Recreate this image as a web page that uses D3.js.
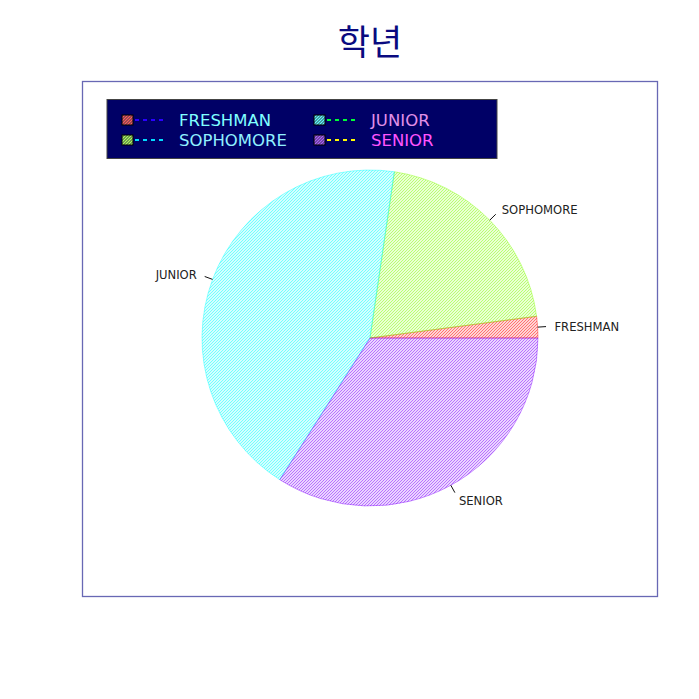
<!DOCTYPE html>
<html><head><meta charset="utf-8">
<script src="https://cdn.jsdelivr.net/npm/d3@7"></script>
<style>body{margin:0;background:#fff}svg{display:block}</style>
</head><body>
<script>
const title = "학년";
const categories = ["FRESHMAN", "SOPHOMORE", "JUNIOR", "SENIOR"];
const values = [2, 20, 42, 33];
const sliceColors = ["#FF0000", "#80FF00", "#00FFFF", "#8000FF"];
const legendLineColors = ["#2a00ff", "#00ddff", "#00ff33", "#ffff00"];
const legendTextColors = ["#80ffff", "#90f0ff", "#e090e8", "#ff55ff"];

const W = 699, H = 699;
const svg = d3.select("body").append("svg").attr("width", W).attr("height", H);
const defs = svg.append("defs");

sliceColors.forEach((c, i) => {
  const p = defs.append("pattern").attr("id", "hatch" + i)
    .attr("patternUnits", "userSpaceOnUse").attr("width", 3).attr("height", 3);
  p.append("path").attr("d", "M0,3L3,0M-1,1L1,-1M2,4L4,2")
    .attr("stroke", c).attr("stroke-width", 1.1).attr("stroke-opacity", 0.58);
  const q = defs.append("pattern").attr("id", "lhatch" + i)
    .attr("patternUnits", "userSpaceOnUse").attr("width", 3).attr("height", 3);
  q.append("path").attr("d", "M0,3L3,0M-1,1L1,-1M2,4L4,2")
    .attr("stroke", d3.interpolateRgb(c, "#ffffff")(0.35)).attr("stroke-width", 1.4);
});

// title
svg.append("text").attr("x", 370).attr("y", 55).attr("text-anchor", "middle")
  .attr("font-family", "'Noto Sans CJK KR'").attr("font-size", 35)
  .attr("fill", "#0a0a80").text(title);

// plot box
svg.append("rect").attr("x", 82.5).attr("y", 81.5).attr("width", 575).attr("height", 515)
  .attr("fill", "none").attr("stroke", "#6868b4").attr("stroke-width", 1.3);

// pie
const cx = 370, cy = 338, R = 168;
const pie = d3.pie().sort(null).value(d => d)
  .startAngle(Math.PI / 2).endAngle(Math.PI / 2 - 2 * Math.PI);
const arcs = pie(values);
const arc = d3.arc().innerRadius(0).outerRadius(R);
const g = svg.append("g").attr("transform", `translate(${cx},${cy})`);
g.selectAll("path.slice").data(arcs).enter().append("path")
  .attr("class", "slice")
  .attr("d", arc)
  .attr("fill", (d, i) => `url(#hatch${i})`)
  .attr("stroke", (d, i) => sliceColors[i]).attr("stroke-opacity", 0.4)
  .attr("stroke-width", 1);

arcs.forEach((d, i) => {
  const a = (d.startAngle + d.endAngle) / 2;
  const sx = Math.sin(a), sy = -Math.cos(a);
  g.append("line").attr("x1", sx * R).attr("y1", sy * R)
    .attr("x2", sx * R * 1.05).attr("y2", sy * R * 1.05)
    .attr("stroke", "#111").attr("stroke-width", 1);
  g.append("text").attr("x", sx * R * 1.1).attr("y", sy * R * 1.1)
    .attr("dy", "0.45em")
    .attr("text-anchor", sx < 0 ? "end" : "start")
    .attr("font-family", "'DejaVu Sans'").attr("font-size", 11.6)
    .attr("fill", "#222").text(categories[i]);
});

// legend
const lg = svg.append("g");
lg.append("rect").attr("x", 107).attr("y", 99.5).attr("width", 390).attr("height", 59)
  .attr("fill", "#000066").attr("stroke", "#444").attr("stroke-width", 1);
const colX = [122, 314], rowY = [120, 140];
categories.forEach((c, i) => {
  const col = Math.floor(i / 2), row = i % 2;
  const x = colX[col], y = rowY[row];
  lg.append("rect").attr("x", x).attr("y", y - 5).attr("width", 11).attr("height", 10)
    .attr("fill", "#3a3a4a");
  lg.append("rect").attr("x", x).attr("y", y - 5).attr("width", 11).attr("height", 10)
    .attr("fill", `url(#lhatch${i})`).attr("stroke", "#000").attr("stroke-width", 1);
  lg.append("line").attr("x1", x + 11).attr("y1", y).attr("x2", x + 42).attr("y2", y)
    .attr("stroke", legendLineColors[i]).attr("stroke-width", 2)
    .attr("stroke-dasharray", "4,4").attr("stroke-dashoffset", -2);
  lg.append("text").attr("x", x + 57).attr("y", y).attr("dy", "0.36em")
    .attr("font-family", "'DejaVu Sans'").attr("font-size", 16.5)
    .attr("fill", legendTextColors[i]).text(c);
});
</script>
</body></html>
